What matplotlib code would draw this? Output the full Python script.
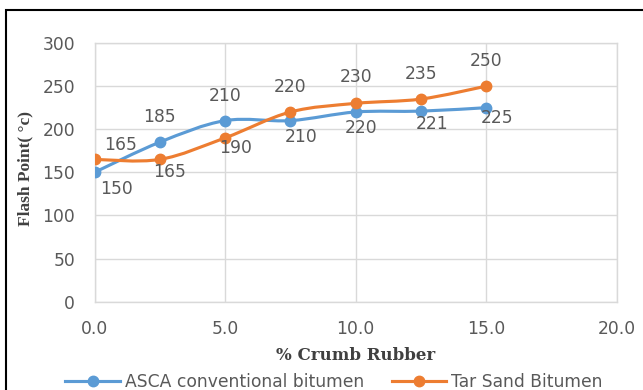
import matplotlib.pyplot as plt
import numpy as np
from matplotlib.lines import Line2D
from matplotlib.patches import PathPatch, Rectangle
from matplotlib.path import Path

# flash point vs crumb rubber content
rubber = [0, 2.5, 5, 7.5, 10, 12.5, 15]
asca = [150, 185, 210, 210, 220, 221, 225]
tar_sand = [165, 165, 190, 220, 230, 235, 250]
x_ticks = [0, 5, 10, 15, 20]
y_ticks = [0, 50, 100, 150, 200, 250, 300]
series_names = ['ASCA conventional bitumen', 'Tar Sand Bitumen']

# label offsets in pixels (dx, dy)
asca_offsets = [(22, -17), (0, 25), (0, 25), (11, -16), (5, -16), (11, -13), (11, -10)]
tar_offsets = [(26, 14), (10, -13), (10, -10), (0, 25), (0, 26), (0, 25), (0, 25)]

BLUE = '#5B9BD5'
ORANGE = '#ED7D31'
GREY = '#595959'
GRID = '#D9D9D9'
TXT_FONT = 'DejaVu Sans'
TXT_SIZE = 12.3
W, H = 643, 390


def smooth_path(xs, ys):
    # Catmull-Rom style bezier through the points, like a smoothed spreadsheet line
    pts = np.column_stack([xs, ys]).astype(float)
    padded = np.vstack([pts[:1], pts, pts[-1:]])
    verts = [pts[0]]
    codes = [Path.MOVETO]
    for i in range(len(pts) - 1):
        p0, p1, p2, p3 = padded[i:i + 4]
        verts += [p1 + (p2 - p0) / 6, p2 - (p3 - p1) / 6, p2]
        codes += [Path.CURVE4] * 3
    return Path(verts, codes)


fig = plt.figure(figsize=(W / 100, H / 100), dpi=100)
ax = fig.add_axes([94.5 / W, 1 - 301.7 / H, 522.5 / W, 258.7 / H])

ax.set_xlim(0, 20)
ax.set_ylim(0, 300)
ax.set_xticks(x_ticks)
ax.set_xticklabels([f'{t:.1f}' for t in x_ticks])
ax.set_yticks(y_ticks)
ax.grid(True, color=GRID, lw=1)
ax.set_axisbelow(True)
for side, sp in ax.spines.items():
    sp.set_color(GRID)
    sp.set_linewidth(1)
ax.tick_params(length=0, labelsize=TXT_SIZE, labelcolor=GREY)
ax.tick_params(axis='x', pad=13)
ax.tick_params(axis='y', pad=14)
for lab in ax.get_xticklabels() + ax.get_yticklabels():
    lab.set_family(TXT_FONT)

for ys, color, offs in [(asca, BLUE, asca_offsets), (tar_sand, ORANGE, tar_offsets)]:
    ax.add_patch(PathPatch(smooth_path(rubber, ys), fill=False, edgecolor=color,
                           lw=2.25, capstyle='round', zorder=3))
    ax.plot(rubber, ys, ls='none', marker='o', ms=7.5, color=color, zorder=4)
    for x, y, (dx, dy) in zip(rubber, ys, offs):
        ax.annotate(str(y), (x, y), xytext=(dx, dy), textcoords='offset pixels',
                    ha='center', va='center', fontsize=TXT_SIZE, color=GREY,
                    family=TXT_FONT, zorder=5)

fig.text(25 / W, 1 - 168 / H, 'Flash Point( °c)', rotation=90, ha='center', va='center',
         fontsize=12.5, fontweight='bold', family='Liberation Serif', color='#404040')
fig.text(355.5 / W, 1 - 356 / H, '% Crumb Rubber', ha='center', va='center',
         fontsize=12, fontweight='bold', family='DejaVu Serif', color='#404040')

handles = [Line2D([], [], color=c, lw=2.25, marker='o', ms=7.5) for c in (BLUE, ORANGE)]
leg = fig.legend(handles, series_names, loc='center', bbox_to_anchor=(334 / W, 1 - 381.7 / H),
                 ncol=2, frameon=False, handlelength=3.2, handletextpad=0.3,
                 columnspacing=1.6, prop={'family': TXT_FONT, 'size': TXT_SIZE})
for t in leg.get_texts():
    t.set_color(GREY)

# outer frame, open at the right and bottom
fig.patches.append(Rectangle((6 / W, -0.2), 1.2, 1.2 - 10 / H, transform=fig.transFigure,
                             fill=False, edgecolor='black', lw=1.5, clip_on=False))

fig.savefig('out.png', dpi=100)
